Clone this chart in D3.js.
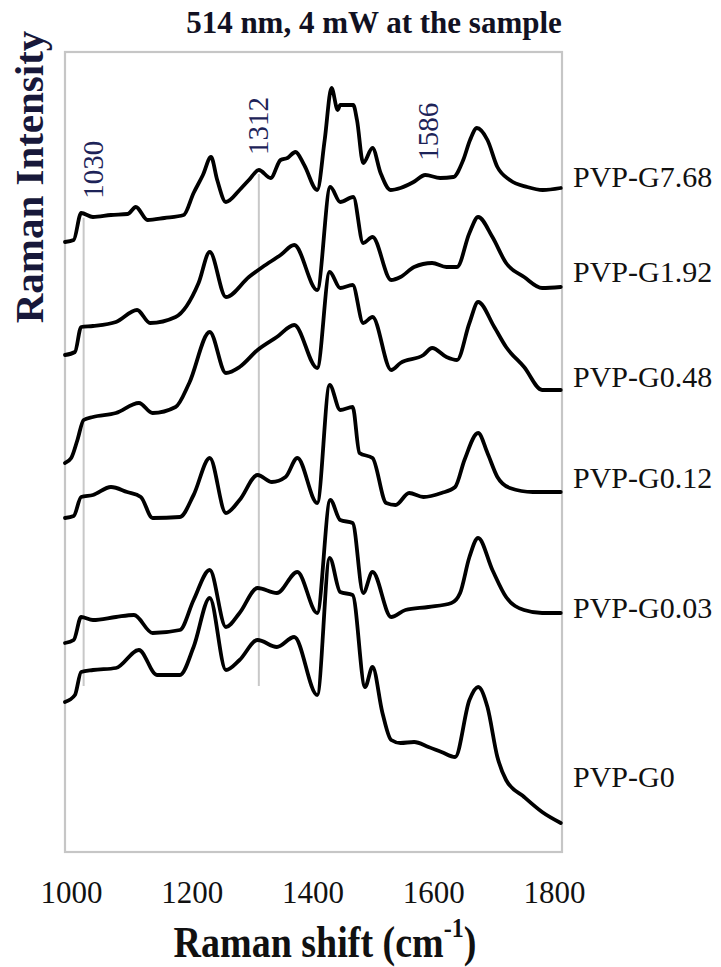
<!DOCTYPE html>
<html>
<head>
<meta charset="utf-8">
<script src="https://cdn.jsdelivr.net/npm/d3@7"></script>
<style>
  body { margin: 0; background: #fff; }
  svg { display: block; }
</style>
</head>
<body>
<svg id="chart" width="721" height="967"></svg>
<script>
// wavenumber ticks and marked bands (cm-1)
var wavenumberTicks = [1000, 1200, 1400, 1600, 1800];
var peakMarks = [1030, 1312, 1586];
var peakGuides = [1030, 1312];

// spectra, [Raman shift, intensity (a.u., stacked)]
var pvpG768 = [[1000,610],[1014,612],[1026,639],[1045,635],[1074,637],[1101,638],[1114,645],[1133,632],[1160,634],[1191,637],[1207,659],[1222,677],[1235,695],[1245,672],[1259,650],[1281,662],[1296,672],[1312,682],[1331,674],[1347,692],[1358,694],[1371,700],[1385,687],[1406,662],[1418,712],[1429,764],[1439,742],[1443,747],[1464,747],[1470,732],[1480,689],[1495,704],[1508,679],[1524,662],[1540,664],[1561,670],[1580,677],[1604,674],[1625,675],[1641,692],[1652,712],[1663,724],[1680,712],[1696,685],[1716,672],[1744,665],[1769,662],[1798,664]];
var pvpG192 = [[1000,497],[1016,500],[1026,525],[1045,526],[1082,530],[1116,542],[1137,529],[1178,535],[1215,569],[1233,600],[1259,555],[1296,575],[1318,585],[1347,597],[1369,607],[1406,562],[1427,665],[1443,650],[1464,655],[1480,609],[1495,615],[1525,572],[1540,575],[1562,585],[1591,589],[1614,585],[1631,585],[1651,619],[1665,635],[1688,615],[1710,589],[1739,575],[1768,564],[1798,565]];
var pvpG048 = [[1000,389],[1010,394],[1020,412],[1030,432],[1045,435],[1082,439],[1119,449],[1141,439],[1178,445],[1200,469],[1233,520],[1259,479],[1281,485],[1310,502],[1341,515],[1369,527],[1406,484],[1426,580],[1443,564],[1463,567],[1480,529],[1495,535],[1525,482],[1540,489],[1577,497],[1591,504],[1614,495],[1631,492],[1651,529],[1665,550],[1691,525],[1710,505],[1739,485],[1768,462],[1798,462]];
var pvpG012 = [[1000,334],[1014,336],[1026,355],[1045,357],[1074,365],[1100,360],[1122,355],[1141,334],[1185,335],[1207,357],[1233,394],[1259,339],[1281,352],[1310,377],[1333,370],[1355,375],[1374,394],[1406,349],[1426,467],[1443,442],[1463,445],[1474,399],[1495,394],[1517,349],[1532,347],[1554,359],[1577,355],[1606,359],[1628,365],[1643,392],[1665,419],[1680,399],[1696,375],[1716,364],[1753,360],[1798,360]];
var pvpG003 = [[1000,209],[1014,212],[1026,235],[1045,232],[1082,235],[1111,237],[1141,219],[1185,222],[1207,252],[1233,282],[1259,225],[1281,239],[1310,264],[1341,259],[1374,280],[1406,239],[1427,352],[1443,332],[1463,329],[1480,259],[1495,280],[1525,235],[1548,242],[1585,245],[1622,249],[1636,259],[1651,295],[1665,314],[1688,282],[1710,255],[1739,242],[1768,239],[1798,239]];
var pvpG0 = [[1000,150],[1016,157],[1026,180],[1045,182],[1082,184],[1119,202],[1148,177],[1185,177],[1207,205],[1233,254],[1259,182],[1281,192],[1310,212],[1341,205],[1369,215],[1406,157],[1426,294],[1443,260],[1463,257],[1483,165],[1495,185],[1511,139],[1525,112],[1540,109],[1562,110],[1585,105],[1606,100],[1628,95],[1651,152],[1665,165],[1680,145],[1696,95],[1710,72],[1739,55],[1768,40],[1798,29]];

var seriesNames = ["PVP-G7.68", "PVP-G1.92", "PVP-G0.48", "PVP-G0.12", "PVP-G0.03", "PVP-G0"];
var seriesData = [pvpG768, pvpG192, pvpG048, pvpG012, pvpG003, pvpG0];
// intensity level where each sample name sits
var labelLevels = [665, 570, 465, 364, 234, 65];

var serif = "'Liberation Serif', 'Times New Roman', serif";
var textColor = "#111";
var markColor = "#1d2358";

var plotLeft = 65, plotRight = 562, plotTop = 52, plotBottom = 852;

var svg = d3.select("#chart");

var x = d3.scaleLinear().domain([1000, 1800]).range([plotLeft, plotRight]);
var y = d3.scaleLinear().domain([0, 800]).range([plotBottom, plotTop]);
// tick labels in the figure sit a little inside the frame
var xLabels = d3.scaleLinear().domain([1000, 1800]).range([71, 554]);

// intensity of a spectrum at a given shift (linear between read points)
function valueAt(spec, w) {
    var i = d3.bisector(function(d) { return d[0]; }).left(spec, w);
    if (i <= 0) return spec[0][1];
    if (i >= spec.length) return spec[spec.length - 1][1];
    var a = spec[i - 1], b = spec[i];
    return a[1] + (b[1] - a[1]) * (w - a[0]) / (b[0] - a[0]);
}

// plot frame
svg.append("rect")
    .attr("x", plotLeft)
    .attr("y", plotTop)
    .attr("width", plotRight - plotLeft)
    .attr("height", plotBottom - plotTop)
    .attr("fill", "none")
    .attr("stroke", "#c6c6c6")
    .attr("stroke-width", 2.2);

// gray guide lines for marked bands
svg.selectAll(".guide")
    .data(peakGuides)
    .enter()
    .append("line")
    .attr("x1", function(d) { return x(d); })
    .attr("x2", function(d) { return x(d); })
    .attr("y1", function(d) { return y(valueAt(pvpG768, d)) + 4; })
    .attr("y2", y(166))
    .attr("stroke", "#c8c8c8")
    .attr("stroke-width", 2);

// spectra
var line = d3.line()
    .x(function(d) { return x(d[0]); })
    .y(function(d) { return y(d[1]); })
    .curve(d3.curveMonotoneX);

svg.selectAll(".spectrum")
    .data(seriesData)
    .enter()
    .append("path")
    .attr("d", line)
    .attr("fill", "none")
    .attr("stroke", "#000")
    .attr("stroke-width", 3.8)
    .style("stroke-linejoin", "round")
    .style("stroke-linecap", "round");

// sample names
svg.selectAll(".seriesLabel")
    .data(seriesNames)
    .enter()
    .append("text")
    .attr("x", plotRight + 11)
    .attr("y", function(d, i) { return y(labelLevels[i]); })
    .text(function(d) { return d; })
    .style("font-family", serif)
    .style("font-size", "30px")
    .style("fill", textColor);

// band labels, rotated, sitting above the top spectrum (kept clear of the frame)
svg.selectAll(".peakLabel")
    .data(peakMarks)
    .enter()
    .append("text")
    .attr("transform", function(d) {
        var bx = Math.max(x(d) + 9, plotLeft + 38);
        return "translate(" + bx + "," + (y(valueAt(pvpG768, d)) - 15) + ") rotate(-90)";
    })
    .text(function(d) { return d; })
    .style("font-family", serif)
    .style("font-size", "29px")
    .style("text-anchor", "start")
    .style("fill", markColor);

// x axis labels
var xAxis = svg.append("g")
    .attr("transform", "translate(0,903)")
    .call(d3.axisBottom(xLabels).tickValues(wavenumberTicks).tickSize(0).tickFormat(d3.format("d")));
xAxis.select(".domain").remove();
xAxis.selectAll("text")
    .attr("y", 0)
    .attr("dy", 0)
    .style("font-family", serif)
    .style("font-size", "31px")
    .style("fill", textColor);

// axis titles
var xTitle = svg.append("text")
    .attr("transform", "translate(325,957) scale(1,1.18)")
    .style("font-family", serif)
    .style("font-weight", "bold")
    .style("font-size", "38px")
    .style("text-anchor", "middle")
    .style("fill", textColor);
xTitle.append("tspan").text("Raman shift (cm");
xTitle.append("tspan").text("-1").attr("dy", -17).style("font-size", "24px");
xTitle.append("tspan").text(")").attr("dy", 17);

svg.append("text")
    .attr("transform", "translate(43,177) rotate(-90)")
    .text("Raman Intensity")
    .style("font-family", serif)
    .style("font-weight", "bold")
    .style("font-size", "41px")
    .style("text-anchor", "middle")
    .style("fill", "#17183a");

// title
svg.append("text")
    .attr("x", 374)
    .attr("y", 33)
    .text("514 nm, 4 mW at the sample")
    .style("font-family", serif)
    .style("font-weight", "bold")
    .style("font-size", "31px")
    .style("text-anchor", "middle")
    .style("fill", "#111122");
</script>
</body>
</html>
